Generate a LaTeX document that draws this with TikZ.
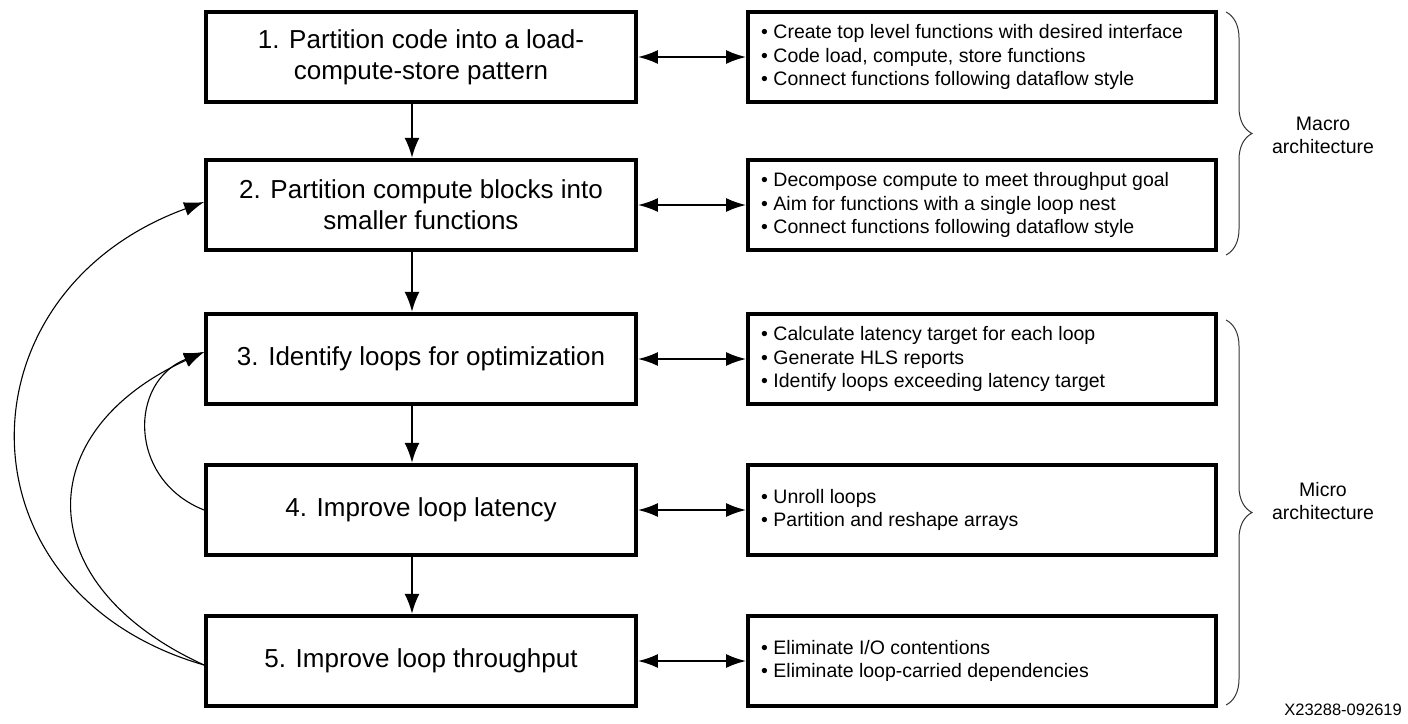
\documentclass[tikz,border=0pt]{standalone}
\usepackage{fontspec}
\setmainfont{Liberation Sans}
\usetikzlibrary{arrows.meta,decorations.pathreplacing}
\begin{document}
\begin{tikzpicture}[x=1pt,y=-1pt,
 lbox/.style={draw,line width=3.8pt,minimum width=430pt,minimum height=90.5pt,inner sep=0pt,align=center,font=\fontsize{26}{31}\selectfont},
 rbox/.style={draw,line width=3.8pt,minimum width=468pt,minimum height=90.5pt,inner sep=0pt},
 rtext/.style={anchor=west,align=left,inner sep=0pt,font=\fontsize{19.5}{23.5}\selectfont},
 arr/.style={-{Latex[length=20pt,width=15pt]},line width=2pt},
 darr/.style={{Latex[length=20pt,width=14pt]}-{Latex[length=20pt,width=14pt]},line width=2pt},
 carr/.style={-{Latex[length=20pt,width=14pt]},line width=1.1pt},
 brc/.style={decorate,decoration={brace,amplitude=26pt},line width=1pt,draw=black!80},
 side/.style={align=center,inner sep=0pt,font=\fontsize{19.5}{23}\selectfont}]
\useasboundingbox (0,0) rectangle (1408,723);

\node[lbox] (b1) at (421,57) {1. Partition code into a load-\\compute-store pattern};
\node[lbox] (b2) at (421,205) {2. Partition compute blocks into\\smaller functions};
\node[lbox] (b3) at (421,359) {3. Identify loops for optimization};
\node[lbox] (b4) at (421,510) {4. Improve loop latency};
\node[lbox] (b5) at (421,661) {5. Improve loop throughput};

\node[rbox] (r1) at (982,57) {};
\node[rbox] (r2) at (982,205) {};
\node[rbox] (r3) at (982,359) {};
\node[rbox] (r4) at (982,510) {};
\node[rbox] (r5) at (982,661) {};

\node[rtext] (t1) at (761,57) {\textbullet\ Create top level functions with desired interface\\\textbullet\ Code load, compute, store functions\\\textbullet\ Connect functions following dataflow style};
\node[rtext] (t2) at (761,205) {\textbullet\ Decompose compute to meet throughput goal\\\textbullet\ Aim for functions with a single loop nest\\\textbullet\ Connect functions following dataflow style};
\node[rtext] (t3) at (761,359) {\textbullet\ Calculate latency target for each loop\\\textbullet\ Generate HLS reports\\\textbullet\ Identify loops exceeding latency target};
\node[rtext] (t4) at (761,510) {\textbullet\ Unroll loops\\\textbullet\ Partition and reshape arrays};
\node[rtext] (t5) at (761,661) {\textbullet\ Eliminate I/O contentions\\\textbullet\ Eliminate loop-carried dependencies};

\draw[arr] ([xshift=-9pt]b1.south) -- ([xshift=-9pt]b2.north);
\draw[arr] ([xshift=-9pt]b2.south) -- ([xshift=-9pt]b3.north);
\draw[arr] ([xshift=-9pt]b3.south) -- ([xshift=-9pt]b4.north);
\draw[arr] ([xshift=-9pt]b4.south) -- ([xshift=-9pt]b5.north);

\draw[darr] (b1.east) -- (r1.west);
\draw[darr] (b2.east) -- (r2.west);
\draw[darr] (b3.east) -- (r3.west);
\draw[darr] (b4.east) -- (r4.west);
\draw[darr] (b5.east) -- (r5.west);

\draw[carr] ([yshift=-4pt]b5.west) .. controls +(-250,-72) and +(-250,91) .. ([yshift=3pt]b2.west);
\draw[carr] ([yshift=-4pt]b5.west) .. controls +(-175,-80) and +(-175,80) .. ([yshift=7pt]b3.west);
\draw[carr] (b4.west) .. controls +(-76,-30) and +(-76,30) .. ([yshift=7pt]b3.west);

\draw[brc] (1226,12) -- (1226,255);
\draw[brc] (1226,320) -- (1226,705);

\node[side] (mac) at (1323,135) {Macro\\architecture};
\node[side] (mic) at (1323,501) {Micro\\architecture};
\node[anchor=east,inner sep=0pt,font=\fontsize{16.5}{18}\selectfont] (id) at (1402,710) {X23288-092619};
\end{tikzpicture}
\end{document}
